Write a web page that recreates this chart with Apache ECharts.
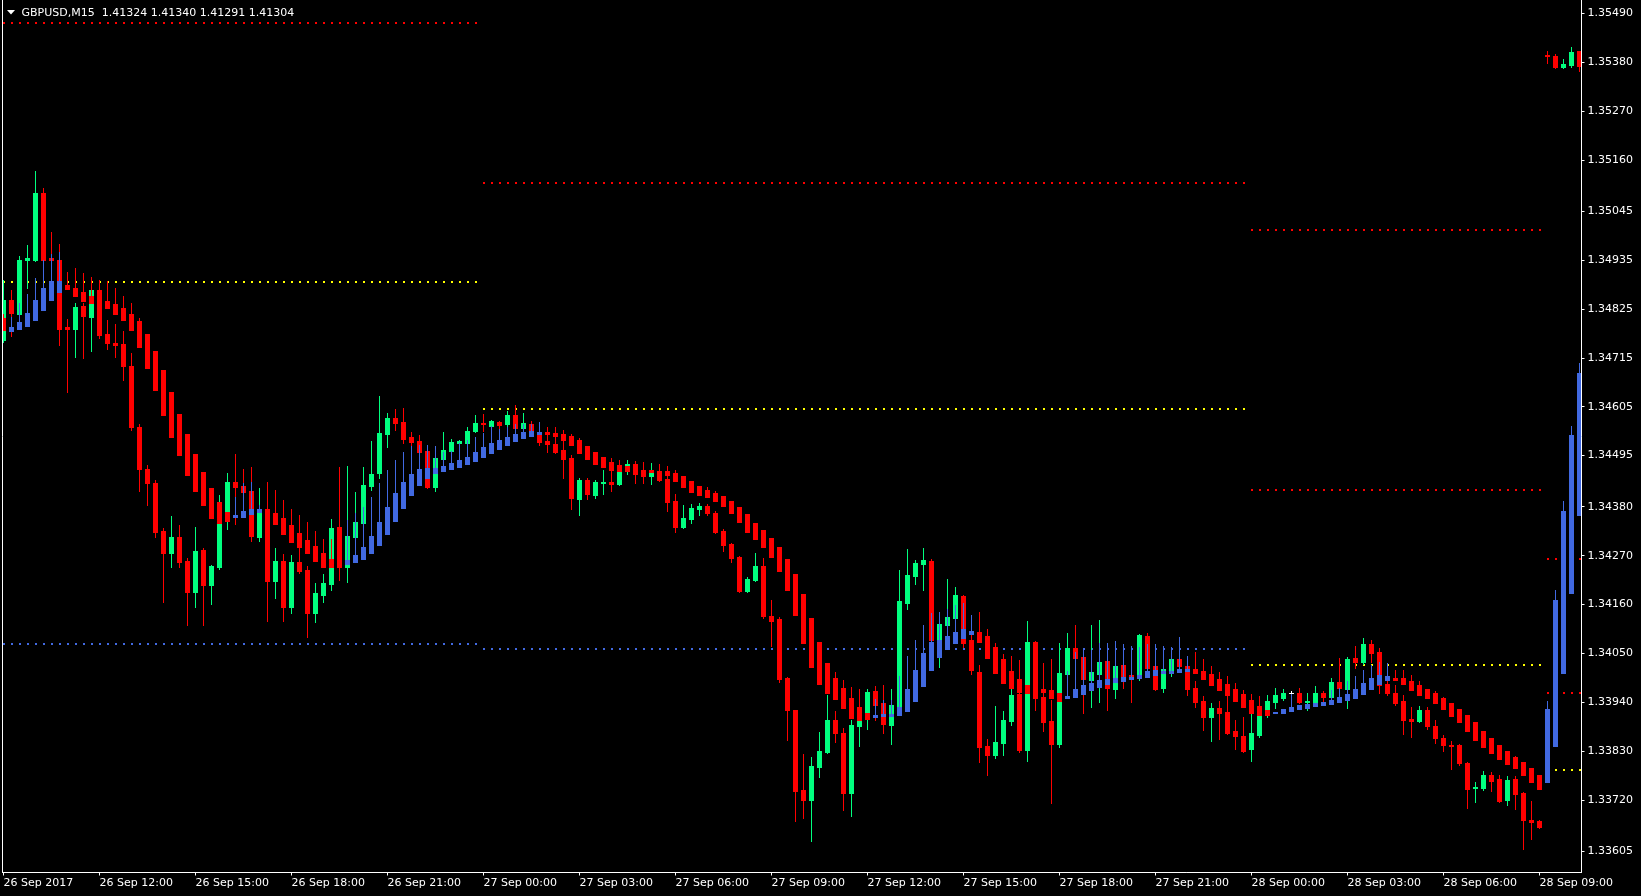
<!DOCTYPE html>
<html>
<head>
<meta charset="utf-8">
<style>
html,body{margin:0;padding:0;background:#000;}
#chart{width:1641px;height:896px;}
</style>
<script src="https://cdn.jsdelivr.net/npm/echarts@6/dist/echarts.min.js"></script>
</head>
<body>
<div id="chart"></div>
<script>
// ---- data (GBPUSD M15, bar index 0 = 26 Sep 09:00) ----
const candleOpen = [1.34754,1.34844,1.34813,1.34934,1.34936,1.35085,1.34939,1.34936,1.34784,1.34779,
1.34831,1.34806,1.34867,1.34768,1.34748,1.34745,1.34696,1.34559,1.34464,1.34433,
1.34325,1.34276,1.34312,1.34258,1.34188,1.34282,1.34204,1.34244,1.34350,1.34435,
1.34426,1.34415,1.34312,1.34374,1.34213,1.34258,1.34154,1.34255,1.34237,1.34141,
1.34181,1.34206,1.34334,1.34244,1.34312,1.34343,1.34426,1.34455,1.34543,1.34579,
1.34570,1.34536,1.34527,1.34505,1.34424,1.34487,1.34505,1.34523,1.34523,1.34550,
1.34568,1.34561,1.34570,1.34566,1.34586,1.34557,1.34566,1.34541,1.34527,1.34521,
1.34507,1.34489,1.34397,1.34440,1.34406,1.34433,1.34435,1.34431,1.34467,1.34476,
1.34455,1.34449,1.34460,1.34442,1.34392,1.34334,1.34352,1.34374,1.34381,1.34365,
1.34325,1.34296,1.34267,1.34190,1.34215,1.34246,1.34134,1.34127,1.33995,1.33923,
1.33743,1.33720,1.33795,1.33828,1.33900,1.33871,1.33736,1.33887,1.33902,1.33965,
1.33938,1.33889,1.33932,1.34163,1.34224,1.34251,1.34258,1.34062,1.34114,1.34129,
1.34179,1.34080,1.34008,1.33842,1.33822,1.33848,1.33898,1.33959,1.33833,1.34076,
1.33952,1.33898,1.33846,1.34004,1.34062,1.34042,1.33990,1.34004,1.34033,1.33970,
1.34024,1.34001,1.33995,1.34089,1.34022,1.33972,1.34013,1.34037,1.34022,1.33972,
1.33943,1.33907,1.33927,1.33918,1.33875,1.33864,1.33835,1.33866,1.33918,1.33941,
1.33950,1.33961,1.33961,1.33941,1.33941,1.33961,1.33952,1.33986,1.33970,1.34040,
1.34031,1.34071,1.34053,1.33981,1.33961,1.33943,1.33902,1.33898,1.33923,1.33887,
1.33860,1.33844,1.33844,1.33804,1.33747,1.33747,1.33777,1.33768,1.33720,1.33768,
1.33736,1.33675,1.33673,1.35397,1.35393,1.35368,1.35373,1.35404];

const candleClose = [1.34844,1.34815,1.34936,1.34939,1.35085,1.34936,1.34934,1.34779,1.34779,1.34829,
1.34808,1.34867,1.34766,1.34748,1.34743,1.34696,1.34559,1.34464,1.34433,1.34323,
1.34276,1.34312,1.34255,1.34188,1.34280,1.34204,1.34246,1.34361,1.34435,1.34424,
1.34413,1.34314,1.34374,1.34213,1.34258,1.34154,1.34255,1.34235,1.34141,1.34186,
1.34208,1.34332,1.34244,1.34314,1.34345,1.34428,1.34453,1.34545,1.34579,1.34568,
1.34532,1.34525,1.34503,1.34424,1.34489,1.34507,1.34525,1.34527,1.34550,1.34568,
1.34566,1.34572,1.34563,1.34586,1.34557,1.34568,1.34550,1.34525,1.34521,1.34503,
1.34487,1.34399,1.34440,1.34408,1.34435,1.34435,1.34431,1.34460,1.34476,1.34453,
1.34449,1.34458,1.34440,1.34390,1.34334,1.34354,1.34377,1.34381,1.34365,1.34323,
1.34294,1.34264,1.34190,1.34217,1.34246,1.34134,1.34123,1.33992,1.33923,1.33741,
1.33720,1.33797,1.33831,1.33900,1.33871,1.33736,1.33889,1.33918,1.33963,1.33934,
1.33891,1.33934,1.34168,1.34226,1.34253,1.34260,1.34080,1.34116,1.34132,1.34181,
1.34073,1.34013,1.33839,1.33822,1.33851,1.33900,1.33956,1.33833,1.34076,1.33950,
1.33896,1.33846,1.34006,1.34062,1.34040,1.33992,1.34008,1.34031,1.33972,1.34022,
1.33999,1.33992,1.34091,1.34017,1.33970,1.34015,1.34037,1.34022,1.33970,1.33941,
1.33907,1.33927,1.33916,1.33871,1.33864,1.33831,1.33871,1.33918,1.33943,1.33956,
1.33961,1.33961,1.33941,1.33943,1.33961,1.33952,1.33986,1.33972,1.34037,1.34031,
1.34071,1.34051,1.33979,1.33961,1.33938,1.33900,1.33898,1.33923,1.33887,1.33860,
1.33844,1.33842,1.33804,1.33745,1.33749,1.33777,1.33763,1.33718,1.33765,1.33734,
1.33675,1.33671,1.33660,1.35393,1.35368,1.35375,1.35402,1.35371];

const candleHigh = [1.34891,1.34867,1.34945,1.34968,1.35136,1.35096,1.34997,1.34970,1.34802,1.34838,
1.34838,1.34896,1.34891,1.34799,1.34790,1.34775,1.34725,1.34566,1.34473,1.34440,
1.34332,1.34359,1.34338,1.34264,1.34334,1.34287,1.34249,1.34406,1.34455,1.34498,
1.34464,1.34469,1.34422,1.34435,1.34287,1.34273,1.34271,1.34287,1.34246,1.34208,
1.34228,1.34352,1.34469,1.34471,1.34413,1.34469,1.34527,1.34628,1.34590,1.34599,
1.34602,1.34548,1.34541,1.34518,1.34516,1.34548,1.34532,1.34530,1.34559,1.34586,
1.34588,1.34575,1.34572,1.34595,1.34608,1.34590,1.34572,1.34552,1.34559,1.34536,
1.34530,1.34496,1.34444,1.34444,1.34440,1.34462,1.34462,1.34485,1.34485,1.34482,
1.34480,1.34478,1.34476,1.34471,1.34408,1.34383,1.34386,1.34388,1.34386,1.34370,
1.34330,1.34298,1.34269,1.34222,1.34276,1.34264,1.34170,1.34132,1.33997,1.33923,
1.33824,1.33817,1.33873,1.33956,1.33920,1.33882,1.33900,1.33945,1.33970,1.33977,
1.33979,1.33970,1.34237,1.34285,1.34260,1.34287,1.34262,1.34143,1.34217,1.34199,
1.34181,1.34136,1.34024,1.33857,1.33932,1.33920,1.33999,1.33990,1.34123,1.34078,
1.34028,1.33945,1.34073,1.34096,1.34114,1.34058,1.34114,1.34125,1.34073,1.34078,
1.34071,1.34067,1.34093,1.34096,1.34035,1.34067,1.34064,1.34087,1.34044,1.33988,
1.33954,1.33938,1.33943,1.33954,1.33900,1.33907,1.33914,1.33945,1.33956,1.33972,
1.33970,1.33965,1.33972,1.33961,1.33977,1.33965,1.33995,1.34040,1.34042,1.34067,
1.34084,1.34080,1.34062,1.33990,1.33979,1.33956,1.33929,1.33932,1.33929,1.33900,
1.33866,1.33853,1.33846,1.33806,1.33761,1.33786,1.33783,1.33777,1.33774,1.33774,
1.33738,1.33718,1.33675,1.35404,1.35399,1.35386,1.35415,1.35405];

const candleLow = [1.34750,1.34763,1.34808,1.34873,1.34932,1.34932,1.34930,1.34743,1.34637,1.34716,
1.34714,1.34730,1.34759,1.34734,1.34716,1.34664,1.34552,1.34415,1.34383,1.34312,
1.34165,1.34244,1.34244,1.34114,1.34154,1.34114,1.34161,1.34240,1.34330,1.34341,
1.34372,1.34303,1.34303,1.34123,1.34174,1.34123,1.34141,1.34231,1.34087,1.34120,
1.34165,1.34192,1.34215,1.34210,1.34305,1.34338,1.34417,1.34444,1.34514,1.34552,
1.34523,1.34516,1.34496,1.34422,1.34415,1.34480,1.34496,1.34514,1.34518,1.34548,
1.34550,1.34557,1.34557,1.34559,1.34548,1.34548,1.34545,1.34518,1.34503,1.34500,
1.34444,1.34374,1.34361,1.34397,1.34399,1.34408,1.34415,1.34428,1.34453,1.34433,
1.34433,1.34431,1.34437,1.34370,1.34323,1.34332,1.34343,1.34361,1.34361,1.34321,
1.34280,1.34255,1.34188,1.34188,1.34213,1.34129,1.34067,1.33986,1.33855,1.33673,
1.33680,1.33628,1.33772,1.33826,1.33851,1.33698,1.33684,1.33842,1.33880,1.33900,
1.33871,1.33846,1.33929,1.34150,1.34206,1.34192,1.34076,1.34019,1.34102,1.34125,
1.34064,1.34004,1.33806,1.33777,1.33815,1.33822,1.33889,1.33828,1.33808,1.33923,
1.33875,1.33714,1.33839,1.33990,1.34024,1.33916,1.33929,1.33941,1.33923,1.33950,
1.33972,1.33941,1.33990,1.34013,1.33968,1.33963,1.33999,1.34017,1.33956,1.33929,
1.33878,1.33853,1.33857,1.33869,1.33835,1.33828,1.33808,1.33862,1.33907,1.33927,
1.33945,1.33945,1.33938,1.33923,1.33936,1.33941,1.33945,1.33968,1.33927,1.34017,
1.34026,1.34031,1.33961,1.33956,1.33934,1.33869,1.33862,1.33896,1.33880,1.33849,
1.33831,1.33790,1.33799,1.33702,1.33716,1.33743,1.33741,1.33716,1.33709,1.33700,
1.33610,1.33633,1.33657,1.35377,1.35366,1.35366,1.35368,1.35359];

const haOpen = [1.34804,1.34775,1.34779,1.34786,1.34799,1.34822,1.34846,1.34864,1.34878,1.34873,
1.34864,1.34855,1.34846,1.34842,1.34835,1.34826,1.34813,1.34797,1.34768,1.34730,
1.34687,1.34637,1.34588,1.34543,1.34498,1.34458,1.34422,1.34390,1.34368,1.34356,
1.34356,1.34363,1.34368,1.34372,1.34365,1.34354,1.34338,1.34321,1.34305,1.34291,
1.34276,1.34262,1.34255,1.34251,1.34255,1.34262,1.34276,1.34294,1.34318,1.34347,
1.34377,1.34406,1.34428,1.34444,1.34455,1.34460,1.34464,1.34469,1.34476,1.34482,
1.34492,1.34500,1.34509,1.34518,1.34527,1.34534,1.34539,1.34543,1.34548,1.34545,
1.34543,1.34539,1.34530,1.34516,1.34503,1.34492,1.34480,1.34473,1.34471,1.34469,
1.34462,1.34462,1.34460,1.34460,1.34455,1.34449,1.34437,1.34426,1.34417,1.34411,
1.34404,1.34392,1.34379,1.34363,1.34343,1.34327,1.34309,1.34289,1.34262,1.34228,
1.34183,1.34129,1.34076,1.34028,1.33995,1.33972,1.33950,1.33929,1.33916,1.33907,
1.33909,1.33909,1.33911,1.33920,1.33943,1.33977,1.34013,1.34042,1.34060,1.34073,
1.34084,1.34093,1.34098,1.34089,1.34064,1.34037,1.34010,1.33992,1.33979,1.33972,
1.33970,1.33968,1.33961,1.33950,1.33952,1.33959,1.33968,1.33974,1.33981,1.33986,
1.33988,1.33992,1.33995,1.33997,1.34001,1.34006,1.34006,1.34008,1.34010,1.34015,
1.34010,1.34004,1.33992,1.33981,1.33970,1.33959,1.33945,1.33932,1.33923,1.33916,
1.33916,1.33920,1.33925,1.33927,1.33932,1.33934,1.33936,1.33941,1.33945,1.33950,
1.33959,1.33970,1.33981,1.33990,1.33995,1.33995,1.33988,1.33979,1.33970,1.33961,
1.33950,1.33938,1.33925,1.33911,1.33896,1.33875,1.33860,1.33844,1.33831,1.33817,
1.33806,1.33792,1.33777,1.33761,1.33842,1.34006,1.34186,1.34361];

const haClose = [1.34777,1.34784,1.34795,1.34815,1.34844,1.34871,1.34887,1.34887,1.34869,1.34853,
1.34842,1.34838,1.34831,1.34826,1.34813,1.34799,1.34777,1.34739,1.34691,1.34642,
1.34586,1.34536,1.34496,1.34451,1.34415,1.34383,1.34354,1.34343,1.34347,1.34361,
1.34370,1.34374,1.34374,1.34327,1.34341,1.34318,1.34300,1.34289,1.34276,1.34258,
1.34244,1.34244,1.34246,1.34260,1.34271,1.34289,1.34314,1.34345,1.34379,1.34411,
1.34435,1.34453,1.34464,1.34467,1.34467,1.34471,1.34478,1.34485,1.34492,1.34503,
1.34514,1.34523,1.34530,1.34536,1.34543,1.34548,1.34550,1.34548,1.34543,1.34539,
1.34530,1.34518,1.34500,1.34487,1.34476,1.34469,1.34462,1.34460,1.34460,1.34458,
1.34458,1.34458,1.34449,1.34451,1.34437,1.34424,1.34413,1.34406,1.34401,1.34392,
1.34381,1.34365,1.34345,1.34323,1.34307,1.34289,1.34267,1.34235,1.34192,1.34136,
1.34073,1.34019,1.33981,1.33961,1.33947,1.33927,1.33905,1.33900,1.33902,1.33911,
1.33914,1.33914,1.33929,1.33970,1.34013,1.34051,1.34076,1.34080,1.34089,1.34098,
1.34105,1.34100,1.34076,1.34040,1.34006,1.33983,1.33972,1.33963,1.33961,1.33963,
1.33963,1.33950,1.33943,1.33954,1.33970,1.33979,1.33983,1.33990,1.33992,1.33995,
1.33997,1.33997,1.34001,1.34010,1.34013,1.34010,1.34010,1.34015,1.34015,1.34006,
1.33992,1.33979,1.33968,1.33956,1.33943,1.33929,1.33916,1.33911,1.33911,1.33918,
1.33925,1.33929,1.33934,1.33936,1.33938,1.33941,1.33945,1.33952,1.33959,1.33970,
1.33983,1.33995,1.34001,1.33999,1.33990,1.33981,1.33968,1.33956,1.33950,1.33938,
1.33925,1.33909,1.33896,1.33875,1.33855,1.33839,1.33826,1.33812,1.33801,1.33792,
1.33777,1.33761,1.33745,1.33925,1.34170,1.34370,1.34541,1.34680];

const haHigh = [1.34813,1.34806,1.34838,1.34858,1.34894,1.34936,1.34948,1.34952,1.34909,1.34918,
1.34905,1.34896,1.34882,1.34887,1.34871,1.34855,1.34838,1.34804,1.34768,1.34730,
1.34687,1.34637,1.34588,1.34543,1.34498,1.34458,1.34422,1.34390,1.34368,1.34401,
1.34433,1.34435,1.34383,1.34372,1.34417,1.34395,1.34374,1.34361,1.34345,1.34325,
1.34307,1.34307,1.34305,1.34350,1.34365,1.34379,1.34401,1.34433,1.34462,1.34485,
1.34503,1.34516,1.34518,1.34518,1.34516,1.34503,1.34505,1.34523,1.34530,1.34536,
1.34545,1.34561,1.34554,1.34559,1.34566,1.34566,1.34566,1.34570,1.34559,1.34559,
1.34552,1.34543,1.34534,1.34516,1.34503,1.34492,1.34489,1.34485,1.34471,1.34469,
1.34462,1.34462,1.34460,1.34471,1.34462,1.34449,1.34437,1.34426,1.34424,1.34415,
1.34404,1.34392,1.34379,1.34363,1.34343,1.34327,1.34309,1.34289,1.34262,1.34228,
1.34183,1.34129,1.34076,1.34028,1.34008,1.33990,1.33974,1.33970,1.33916,1.33947,
1.33945,1.33945,1.33999,1.34044,1.34080,1.34114,1.34141,1.34143,1.34150,1.34159,
1.34163,1.34136,1.34143,1.34105,1.34073,1.34048,1.34044,1.34035,1.33979,1.33972,
1.33970,1.34037,1.33961,1.34010,1.34053,1.34058,1.34058,1.34073,1.34073,1.34078,
1.34071,1.34067,1.34064,1.34071,1.34071,1.34067,1.34064,1.34087,1.34044,1.34053,
1.34037,1.34022,1.34008,1.33999,1.33983,1.33968,1.33959,1.33954,1.33923,1.33918,
1.33925,1.33959,1.33934,1.33936,1.33938,1.33941,1.33968,1.33972,1.33988,1.33999,
1.34013,1.34024,1.34031,1.34028,1.34013,1.34013,1.34001,1.33988,1.33970,1.33965,
1.33952,1.33938,1.33925,1.33911,1.33896,1.33875,1.33860,1.33844,1.33831,1.33819,
1.33806,1.33792,1.33777,1.33943,1.34192,1.34392,1.34561,1.34703];

// dotted daily levels: [first bar, last bar, price]
const redLevels = [[0,59,1.35469],[60,155,1.35108],[156,192,1.35002],[156,192,1.34417],[193,197,1.34262],[193,197,1.33962]];
const yellowLevels = [[0,59,1.34885],[60,155,1.34600],[156,192,1.34024],[193,197,1.33788]];
const blueLevels = [[0,59,1.34071],[60,155,1.34060]];

// axis ticks
const timeTickBars = [0,12,24,36,48,60,72,84,96,108,120,132,144,156,168,180,192];
const timeTickLabels = ['26 Sep 2017','26 Sep 12:00','26 Sep 15:00','26 Sep 18:00','26 Sep 21:00',
  '27 Sep 00:00','27 Sep 03:00','27 Sep 06:00','27 Sep 09:00','27 Sep 12:00','27 Sep 15:00',
  '27 Sep 18:00','27 Sep 21:00','28 Sep 00:00','28 Sep 03:00','28 Sep 06:00','28 Sep 09:00'];
const priceTicks = [1.35490,1.35380,1.35270,1.35160,1.35045,1.34935,1.34825,1.34715,1.34605,
  1.34495,1.34380,1.34270,1.34160,1.34050,1.33940,1.33830,1.33720,1.33605];
const titleText = 'GBPUSD,M15  1.41324 1.41340 1.41291 1.41304';

// ---- chart ----
const GREEN = '#00FF7F', RED = '#FF0000', BLUE = '#4169E1', YELLOW = '#FFFF00', WHITE = '#FFFFFF';
const FONT = 'DejaVu Sans';

const candleData = candleOpen.map((o, i) => [i, o, candleClose[i], candleHigh[i], candleLow[i]]);
const haData = haOpen.map((o, i) => [i, o, haClose[i], haHigh[i]]);

function levelPoints(levels) {
  const pts = [];
  levels.forEach(seg => { for (let i = seg[0]; i <= seg[1]; i++) pts.push([i, seg[2]]); });
  return pts;
}

function renderCandle(params, api) {
  const i = api.value(0), o = api.value(1), c = api.value(2), h = api.value(3), l = api.value(4);
  const pO = api.coord([i, o]), pC = api.coord([i, c]), pH = api.coord([i, h]), pL = api.coord([i, l]);
  const xw = Math.round(pO[0] - 0.5);
  const color = c > o ? GREEN : (c < o ? RED : WHITE);
  const yTop = Math.round(Math.min(pO[1], pC[1]));
  const yBot = Math.round(Math.max(pO[1], pC[1]));
  const yH = Math.round(pH[1]), yL = Math.round(pL[1]);
  return {
    type: 'group',
    children: [
      { type: 'rect', shape: { x: xw, y: yH, width: 1, height: Math.max(1, yL - yH + 1) }, style: { fill: color } },
      { type: 'rect', shape: { x: xw - 2, y: yTop, width: 5, height: Math.max(1, yBot - yTop + 1) }, style: { fill: color } }
    ]
  };
}

function renderHA(params, api) {
  const i = api.value(0), o = api.value(1), c = api.value(2), h = api.value(3);
  const pO = api.coord([i, o]), pC = api.coord([i, c]), pH = api.coord([i, h]);
  const xw = Math.round(pO[0] - 0.5);
  const color = c > o ? BLUE : RED;
  const yTop = Math.round(Math.min(pO[1], pC[1]));
  const yBot = Math.round(Math.max(pO[1], pC[1]));
  const yH = Math.round(pH[1]);
  const children = [];
  if (yH < yTop) children.push({ type: 'rect', shape: { x: xw, y: yH, width: 1, height: yTop - yH }, style: { fill: color } });
  children.push({ type: 'rect', shape: { x: xw - 2, y: yTop, width: 5, height: Math.max(1, yBot - yTop + 1) }, style: { fill: color } });
  return { type: 'group', children };
}

function dotRenderer(color) {
  return function (params, api) {
    const p = api.coord([api.value(0), api.value(1)]);
    const xw = Math.round(p[0] - 0.5);
    const y = Math.round(p[1]);
    return { type: 'rect', shape: { x: xw, y: y - 1, width: 2, height: 2 }, style: { fill: color } };
  };
}

const YMIN = 1.335574, YMAX = 1.355197;

const chart = echarts.init(document.getElementById('chart'), null, { renderer: 'canvas' });
chart.setOption({
  backgroundColor: '#000000',
  animation: false,
  grid: { left: 2.5, right: 59.5, top: -0.5, bottom: 23.5, containLabel: false },
  xAxis: {
    type: 'value', min: -0.125, max: 197.25, z: 10,
    axisLine: { show: true, onZero: false, lineStyle: { color: WHITE, width: 1 } },
    axisTick: { show: true, customValues: timeTickBars, length: 3, lineStyle: { color: WHITE } },
    axisLabel: {
      customValues: timeTickBars, align: 'left', margin: 5, color: WHITE, fontFamily: FONT, fontSize: 11,
      formatter: v => timeTickLabels[timeTickBars.indexOf(Math.round(v))] || ''
    },
    splitLine: { show: false }
  },
  yAxis: [{
    type: 'value', position: 'right', min: YMIN, max: YMAX, z: 10,
    axisLine: { show: true, onZero: false, lineStyle: { color: WHITE, width: 1 } },
    axisTick: { show: true, customValues: priceTicks, length: 3, lineStyle: { color: WHITE } },
    axisLabel: { customValues: priceTicks, margin: 6, color: WHITE, fontFamily: FONT, fontSize: 11, formatter: v => v.toFixed(5) },
    splitLine: { show: false }
  }, {
    type: 'value', position: 'left', min: YMIN, max: YMAX, z: 10,
    axisLine: { show: true, onZero: false, lineStyle: { color: WHITE, width: 1 } },
    axisTick: { show: false }, axisLabel: { show: false }, splitLine: { show: false }
  }],
  series: [
    { type: 'custom', name: 'R levels', renderItem: dotRenderer(RED), data: levelPoints(redLevels), encode: { x: 0, y: 1 }, clip: true, z: 1, silent: true },
    { type: 'custom', name: 'P levels', renderItem: dotRenderer(YELLOW), data: levelPoints(yellowLevels), encode: { x: 0, y: 1 }, clip: true, z: 1, silent: true },
    { type: 'custom', name: 'S levels', renderItem: dotRenderer(BLUE), data: levelPoints(blueLevels), encode: { x: 0, y: 1 }, clip: true, z: 1, silent: true },
    { type: 'custom', name: 'GBPUSD', renderItem: renderCandle, data: candleData, encode: { x: 0, y: [1, 2, 3, 4] }, clip: true, z: 2, silent: true },
    { type: 'custom', name: 'Heiken Ashi', renderItem: renderHA, data: haData, encode: { x: 0, y: [1, 2, 3] }, clip: true, z: 3, silent: true }
  ],
  graphic: [
    { type: 'polygon', z: 100, shape: { points: [[7, 10], [15, 10], [11, 14.5]] }, style: { fill: WHITE } },
    { type: 'text', z: 100, x: 21.5, y: 12.7, style: { text: titleText, fill: WHITE, font: '11px "DejaVu Sans"', textVerticalAlign: 'middle', textAlign: 'left' } }
  ]
});
</script>
</body>
</html>
